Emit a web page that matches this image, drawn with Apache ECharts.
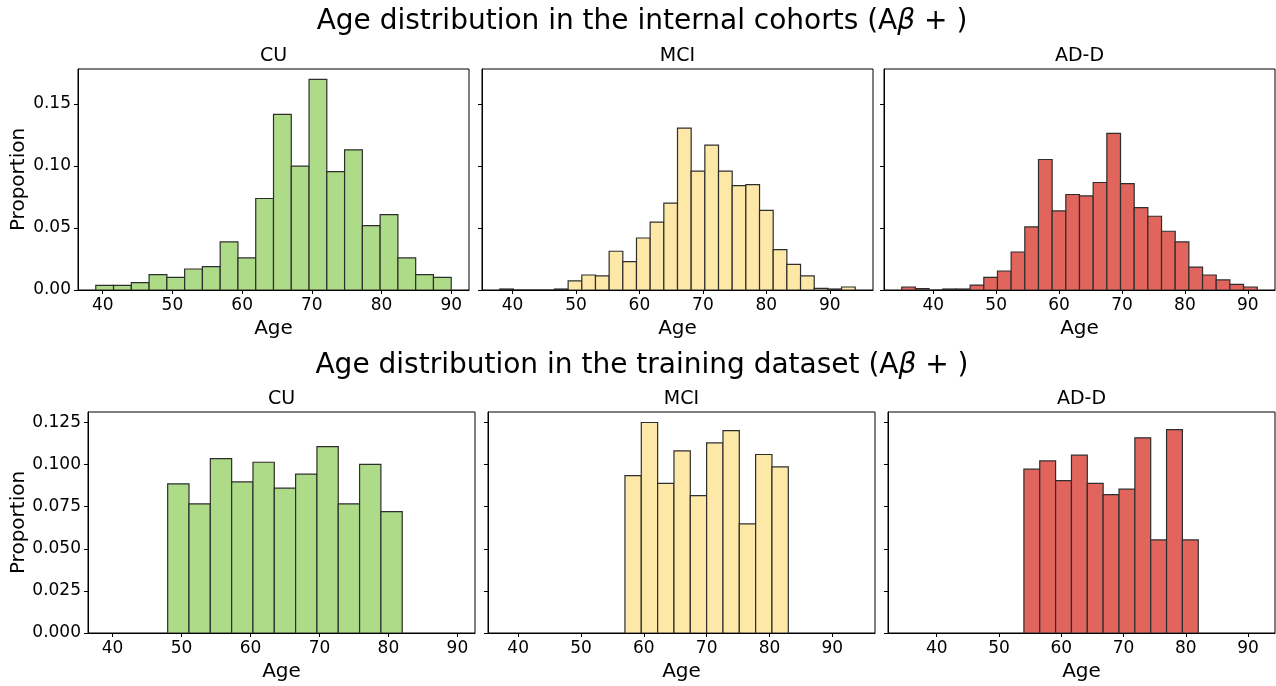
<!DOCTYPE html>
<html>
<head>
<meta charset="utf-8">
<script src="https://cdn.jsdelivr.net/npm/echarts@6/dist/echarts.min.js"></script>
<style>
html,body{margin:0;padding:0;background:#fff;}
#c{width:1276px;height:686px;}
</style>
</head>
<body>
<div id="c"></div>
<script>
// ---------- data ----------
const panelTitles = ['CU', 'MCI', 'AD-D'];
const rowTitles = ['Age distribution in the internal cohorts (A', 'Age distribution in the training dataset (A'];
const xTickValues = [40, 50, 60, 70, 80, 90];
const yTicksTop = [0, 0.05, 0.10, 0.15];
const yTicksBottom = [0, 0.025, 0.05, 0.075, 0.10, 0.125];

// internal cohorts: bin ranges [min age, max age] and proportions per bin
const cuInternalRange = [39, 90];
const cuInternal = [0.0038, 0.0038, 0.0059, 0.0124, 0.0102, 0.0169, 0.0188, 0.0387, 0.0258, 0.0737,
  0.1414, 0.0997, 0.1696, 0.0954, 0.1129, 0.0519, 0.0607, 0.0258, 0.0124, 0.0102];
const mciInternalRange = [38, 94];
const mciInternal = [0.0008, 0, 0, 0, 0.0008, 0.0073, 0.0121, 0.0113, 0.0312, 0.0228, 0.0419, 0.0546, 0.0699,
  0.1304, 0.0957, 0.1167, 0.0957, 0.0841, 0.0849, 0.0642, 0.0325, 0.0207, 0.0113, 0.0013, 0.0008, 0.0024];
const adInternalRange = [35, 91.5];
const adInternal = [0.0024, 0.0011, 0, 0.0008, 0.0008, 0.0040, 0.0102, 0.0153, 0.0306, 0.0508, 0.1051, 0.0637,
  0.0769, 0.0758, 0.0866, 0.1261, 0.0857, 0.0664, 0.0594, 0.0473, 0.0387, 0.0185, 0.0121, 0.0081, 0.0046, 0.0024];

// training dataset
const cuTrainRange = [48, 82];
const cuTrain = [0.0886, 0.0767, 0.1036, 0.0897, 0.1014, 0.0860, 0.0943, 0.1107, 0.0767, 0.1002, 0.0721];
const mciTrainRange = [57, 83];
const mciTrain = [0.0935, 0.1250, 0.0889, 0.1082, 0.0816, 0.1129, 0.1202, 0.0648, 0.1060, 0.0987];
const adTrainRange = [54, 82];
const adTrain = [0.0973, 0.1022, 0.0905, 0.1056, 0.0889, 0.0822, 0.0854, 0.1159, 0.0553, 0.1208, 0.0553];

// ---------- styling / layout ----------
const colors = ['#addb88', '#fee8a8', '#e1645d'];
const edgeColor = '#2e2e2e';
const FONT = 'DejaVu Sans';
const xExtents = [[36.45, 92.55], [35.2, 96.8], [32.175, 94.325]];
const yMaxTop = 0.178, yMaxBottom = 0.13125;
const topGrids = [{left: 78, top: 69, width: 391, height: 221}, {left: 482, top: 69, width: 391, height: 221}, {left: 884, top: 69, width: 391, height: 221}];
const botGrids = [{left: 88, top: 412, width: 387, height: 221}, {left: 488, top: 412, width: 387, height: 221}, {left: 888, top: 412, width: 387, height: 221}];

function histData(range, vals) {
  const n = vals.length, w = (range[1] - range[0]) / n;
  return vals.map((v, i) => [range[0] + i * w, range[0] + (i + 1) * w, v]);
}

const panels = [
  {grid: topGrids[0], data: histData(cuInternalRange, cuInternal), col: 0, row: 0},
  {grid: topGrids[1], data: histData(mciInternalRange, mciInternal), col: 1, row: 0},
  {grid: topGrids[2], data: histData(adInternalRange, adInternal), col: 2, row: 0},
  {grid: botGrids[0], data: histData(cuTrainRange, cuTrain), col: 0, row: 1},
  {grid: botGrids[1], data: histData(mciTrainRange, mciTrain), col: 1, row: 1},
  {grid: botGrids[2], data: histData(adTrainRange, adTrain), col: 2, row: 1}
];

const grid = [], xAxis = [], yAxis = [], series = [], graphic = [];
panels.forEach((p, k) => {
  grid.push(Object.assign({show: true, borderColor: '#000', borderWidth: 1, backgroundColor: 'transparent', containLabel: false}, p.grid));
  xAxis.push({
    type: 'value', gridIndex: k, min: xExtents[p.col][0], max: xExtents[p.col][1],
    name: 'Age', nameLocation: 'middle', nameGap: 29,
    nameTextStyle: {fontFamily: FONT, fontSize: 20, color: '#000'},
    axisLine: {show: true, onZero: false, lineStyle: {color: '#000', width: 1}},
    axisTick: {show: true, length: 4, inside: false, customValues: xTickValues, lineStyle: {color: '#000', width: 1}},
    axisLabel: {show: true, customValues: xTickValues, margin: 7, fontFamily: FONT, fontSize: 17, color: '#000'},
    splitLine: {show: false}
  });
  const yt = p.row === 0 ? yTicksTop : yTicksBottom;
  const dec = p.row === 0 ? 2 : 3;
  yAxis.push({
    type: 'value', gridIndex: k, min: 0, max: p.row === 0 ? yMaxTop : yMaxBottom,
    name: p.col === 0 ? 'Proportion' : '', nameLocation: 'middle', nameGap: p.row === 0 ? 47 : 58,
    nameTextStyle: {fontFamily: FONT, fontSize: 20, color: '#000'},
    axisLine: {show: true, lineStyle: {color: '#000', width: 1}},
    axisTick: {show: true, length: 4, customValues: yt, lineStyle: {color: '#000', width: 1}},
    axisLabel: {show: p.col === 0, customValues: yt, margin: 7, fontFamily: FONT, fontSize: 17, color: '#000',
      formatter: v => v.toFixed(dec)},
    splitLine: {show: false}
  });
  const fill = colors[p.col];
  series.push({
    type: 'custom', xAxisIndex: k, yAxisIndex: k, clip: true,
    encode: {x: [0, 1], y: 2},
    data: p.data,
    renderItem: function (params, api) {
      const x0 = api.value(0), x1 = api.value(1), y = api.value(2);
      const a = api.coord([x0, y]);
      const b = api.coord([x1, 0]);
      return {
        type: 'rect',
        shape: {x: a[0], y: a[1], width: b[0] - a[0], height: b[1] - a[1]},
        style: {fill: fill, stroke: edgeColor, lineWidth: 1.2}
      };
    },
    silent: true
  });
  // subplot title
  graphic.push({
    type: 'text', x: p.grid.left + p.grid.width / 2, y: p.grid.top - 13,
    style: {text: panelTitles[p.col], fontFamily: FONT, fontSize: 19, fill: '#000', textAlign: 'center', textVerticalAlign: 'middle'}
  });
});

// row titles (with italic beta)
[22, 366].forEach((yy, r) => {
  graphic.push({
    type: 'text', x: 642, y: yy,
    style: {
      text: '{n|' + rowTitles[r] + '}{i|β}{n| + )}',
      textAlign: 'center', textVerticalAlign: 'middle',
      rich: {
        n: {fontFamily: FONT, fontSize: 28, fill: '#000', color: '#000'},
        i: {fontFamily: FONT, fontSize: 28, fontStyle: 'italic', fill: '#000', color: '#000'}
      }
    }
  });
});

const chart = echarts.init(document.getElementById('c'), null, {renderer: 'canvas'});
chart.setOption({
  animation: false,
  backgroundColor: '#fff',
  grid, xAxis, yAxis, series, graphic
});
</script>
</body>
</html>
